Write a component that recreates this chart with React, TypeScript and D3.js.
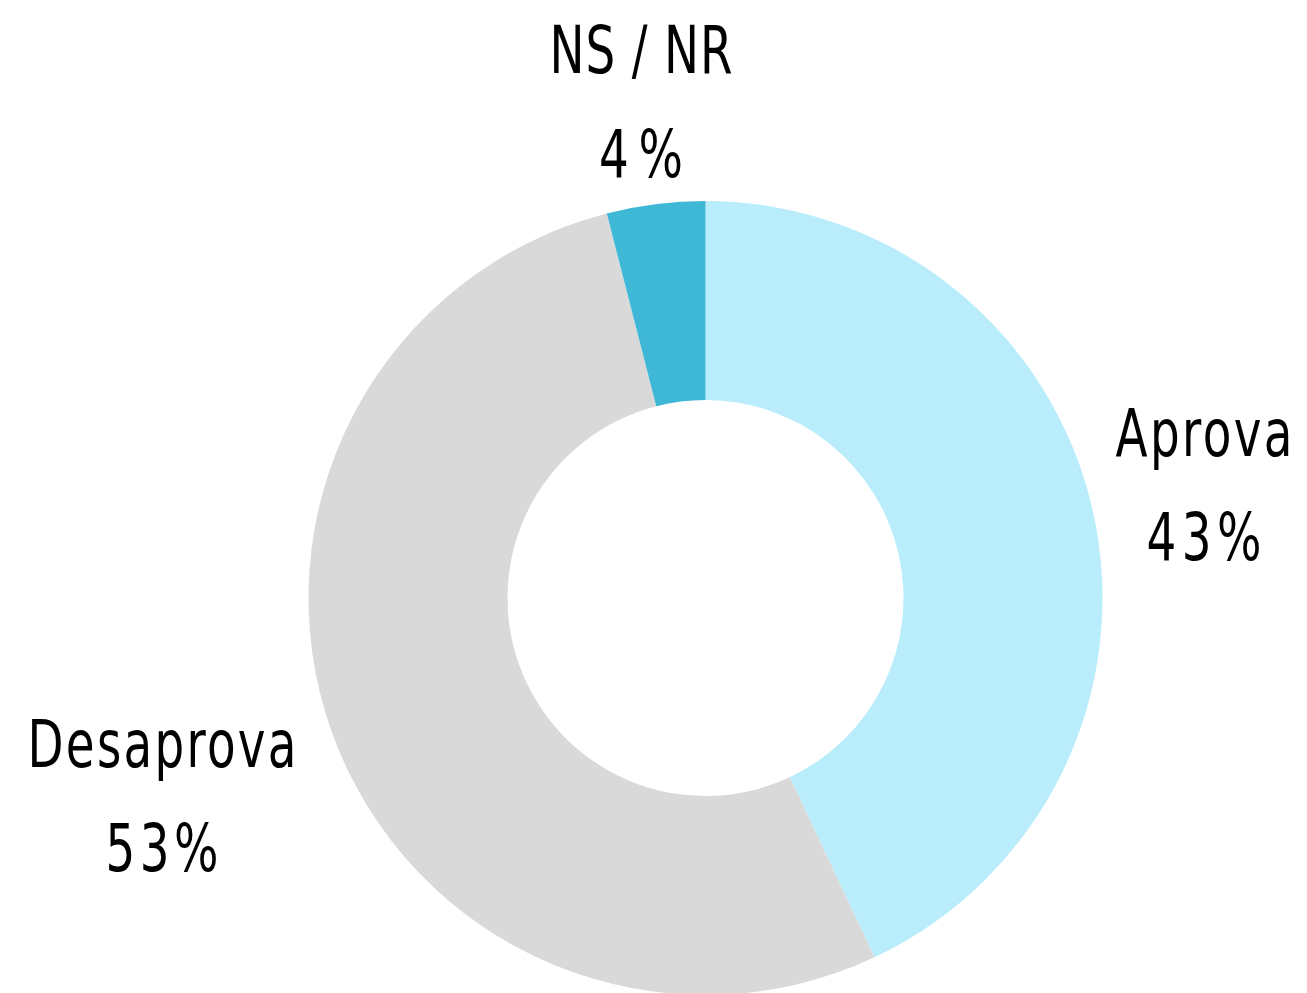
import { useEffect, useRef } from 'react';
import * as d3 from 'd3';

const categories = ['Aprova', 'Desaprova', 'NS / NR'];
const values = [43, 53, 4];
const colors = ['#b9edfc', '#d9d9d9', '#3fb8d8'];
// label anchor points (center x, name baseline) and text widths
const labelPos = [
  { x: 1204, y: 456, w: 177, pw: 115 },
  { x: 162, y: 767, w: 269, pw: 113 },
  { x: 641, y: 73, w: 183, pw: 84 },
];

const App = () => {
  const svgRef = useRef<SVGSVGElement>(null);

  useEffect(() => {
    const width = 1307;
    const height = 993;
    const cx = 705.5;
    const cy = 598;
    const outer = 397;
    const inner = 198;
    const squeeze = 0.8; // narrow glyphs, wide spacing like the reference font

    const svg = d3.select(svgRef.current)
      .attr('width', width)
      .attr('height', height)
      .style('position', 'absolute')
      .style('left', 0)
      .style('top', 0);

    svg.selectAll('*').remove();

    svg.append('rect').attr('width', width).attr('height', height).attr('fill', '#fff');

    const data = categories.map((c, i) => ({ name: c, value: values[i] }));

    const pie = d3.pie<any>()
      .sort(null)
      .value(d => d.value);

    const arc = d3.arc<any>()
      .innerRadius(inner)
      .outerRadius(outer);

    const g = svg.append('g').attr('transform', `translate(${cx},${cy})`);

    g.selectAll('path')
      .data(pie(data))
      .enter()
      .append('path')
      .attr('d', arc)
      .attr('fill', (d, i) => colors[i]);

    // labels
    const lg = svg.append('g')
      .style('font-family', '"DejaVu Sans Condensed", "DejaVu Sans", sans-serif')
      .style('font-size', '65px')
      .attr('fill', '#000')
      .attr('text-anchor', 'middle');

    data.forEach((d, i) => {
      const p = labelPos[i];
      lg.append('g')
        .attr('transform', `translate(${p.x},${p.y}) scale(${squeeze},1)`)
        .append('text')
        .attr('textLength', p.w / squeeze)
        .attr('lengthAdjust', 'spacing')
        .text(d.name);
      lg.append('g')
        .attr('transform', `translate(${p.x},${p.y + 104}) scale(${squeeze},1)`)
        .append('text')
        .attr('textLength', p.pw / squeeze)
        .attr('lengthAdjust', 'spacing')
        .text(`${d.value}%`);
    });
  }, []);

  return (
    <div>
      <svg ref={svgRef}></svg>
    </div>
  );
};

export default App;
